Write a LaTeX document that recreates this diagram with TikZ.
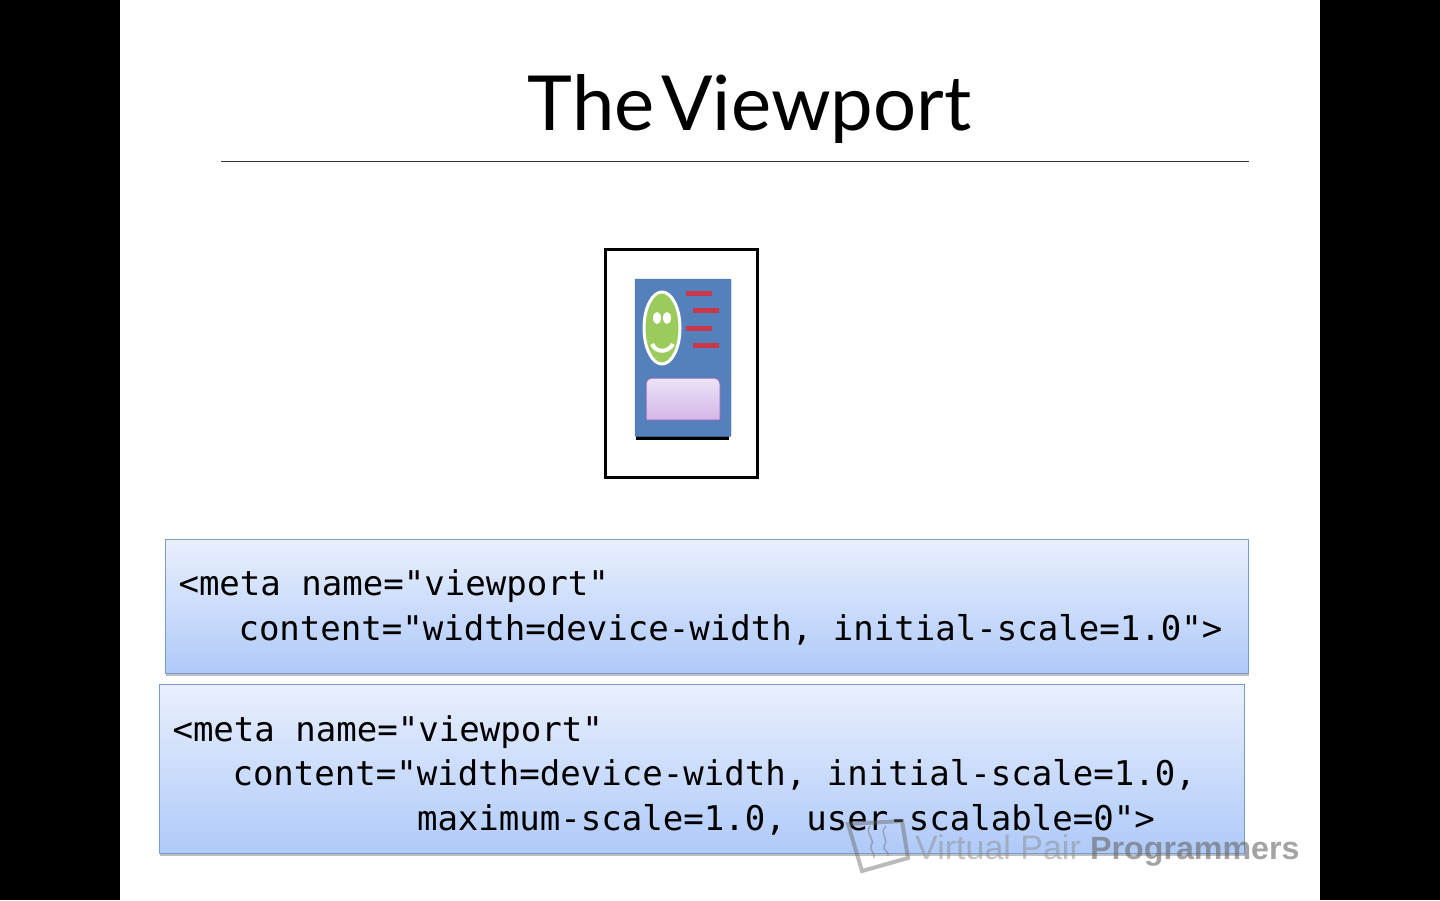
\documentclass[tikz,border=0pt]{standalone}
\usepackage{fontspec}
\setmainfont{Lato}
\setmonofont{DejaVu Sans Mono}
\newfontfamily\markfont{Liberation Sans}
\usepackage{xcolor}
\usetikzlibrary{shapes.geometric, positioning, shadows}
\definecolor{cardblue}{HTML}{5480BC}
\definecolor{facegreen}{HTML}{9BCB5C}
\definecolor{barred}{HTML}{C9374B}
\definecolor{boxline}{HTML}{7A9CC8}
\definecolor{boxtop}{HTML}{E9EFFD}
\definecolor{boxbottom}{HTML}{AFCAF9}
\definecolor{lilacline}{HTML}{8A6BB5}
\definecolor{lilactop}{HTML}{ECE3F8}
\definecolor{lilacbottom}{HTML}{D3B6E8}
\tikzset{
  sidebar/.style={rectangle, fill=black, draw=none, minimum width=120pt, minimum height=900pt, anchor=north west, inner sep=0pt},
  codebox/.style={rectangle, anchor=north west, draw=boxline, line width=1pt, top color=boxtop, bottom color=boxbottom, inner xsep=13pt, inner ysep=0pt, font=\ttfamily\fontsize{34.05}{44.6}\selectfont, execute at begin node={\spaceskip=20.5pt\relax\xspaceskip=20.5pt\relax}, drop shadow={shadow xshift=0.5pt, shadow yshift=-2.5pt, opacity=0.5}},
  infoline/.style={barred, line width=5pt},
  eyedot/.style={ellipse, fill=white, minimum width=8pt, minimum height=12pt, inner sep=0pt},
  markline/.style={black!60, opacity=0.45, line width=1.4pt},
}
\begin{document}
\begin{tikzpicture}[x=1pt, y=-1pt]
\useasboundingbox (0,0) rectangle (1440,900);
\node[sidebar] (barleft) at (0,0) {};
\node[sidebar] (barright) at (1320,0) {};
\node[anchor=base, font=\fontsize{76}{76}\selectfont] (title) at (749.5,130) {The\kern 7pt Viewport};
\draw[black!80, line width=1pt] (221,161) -- (1249,161);
% phone with the page inside
\draw[black, line width=3pt] (605,249) rectangle (757,477);
\fill[black] (636,283) rectangle (729,440);
\fill[cardblue, draw=cardblue!85!black, rounded corners=1pt] (635,279) rectangle (731,436.5);
\node[ellipse, draw=white, fill=facegreen, line width=3pt, minimum width=36pt, minimum height=72pt, inner sep=0pt] (face) at (662,328) {};
\node[eyedot] (eyeleft) at (657,318) {};
\node[eyedot] (eyeright) at (667,318) {};
\draw[white, line width=4pt] (652,344) .. controls (656,353) and (668,353) .. (673,344);
\draw[infoline] (686,293) -- (712,293);
\draw[infoline] (693,310) -- (719,310);
\draw[infoline] (686,328) -- (712,328);
\draw[infoline] (693,345) -- (719,345);
\draw[draw=lilacline, top color=lilactop, bottom color=lilacbottom, line width=1pt] (646,420) [rounded corners=6pt] -- (646,378) -- (720,378) [sharp corners] -- (720,420) -- cycle;
% the two snippets
\node[codebox, text width=1057pt, minimum height=134pt] (metaone) at (165,539) {\rule{0pt}{28pt}{\textless}meta name="viewport"\\\hspace*{60pt}content="width=device-width, initial-scale=1.0"{\textgreater}};
\node[codebox, text width=1059pt, minimum height=169pt] (metatwo) at (159,684) {\rule{0pt}{38pt}{\textless}meta name="viewport"\\\hspace*{60pt}content="width=device-width, initial-scale=1.0,\\\hspace*{244.5pt}maximum-scale=1.0, user-scalable=0"{\textgreater}};
% watermark
\draw[black!60, opacity=0.45, line width=4pt, line join=miter] (848,824) -- (902,821) -- (908,858) -- (862,871) -- cycle;
\draw[markline] (870,826) .. controls (864,834) and (876,838) .. (871,846) .. controls (869,850) and (875,852) .. (874,858);
\draw[markline] (886,826) .. controls (878,834) and (890,838) .. (884,846) .. controls (882,850) and (890,852) .. (888,856);
\node[anchor=base west, inner sep=0pt, text=black!45, opacity=0.5, font=\markfont\fontsize{34}{34}\selectfont] (markvp) at (915,859) {Virtual Pair};
\node[anchor=base west, inner sep=0pt, text=black!60, opacity=0.6, font=\markfont\bfseries\fontsize{32.2}{34}\selectfont] (markprog) at (1090,859) {Programmers};
\end{tikzpicture}
\end{document}
